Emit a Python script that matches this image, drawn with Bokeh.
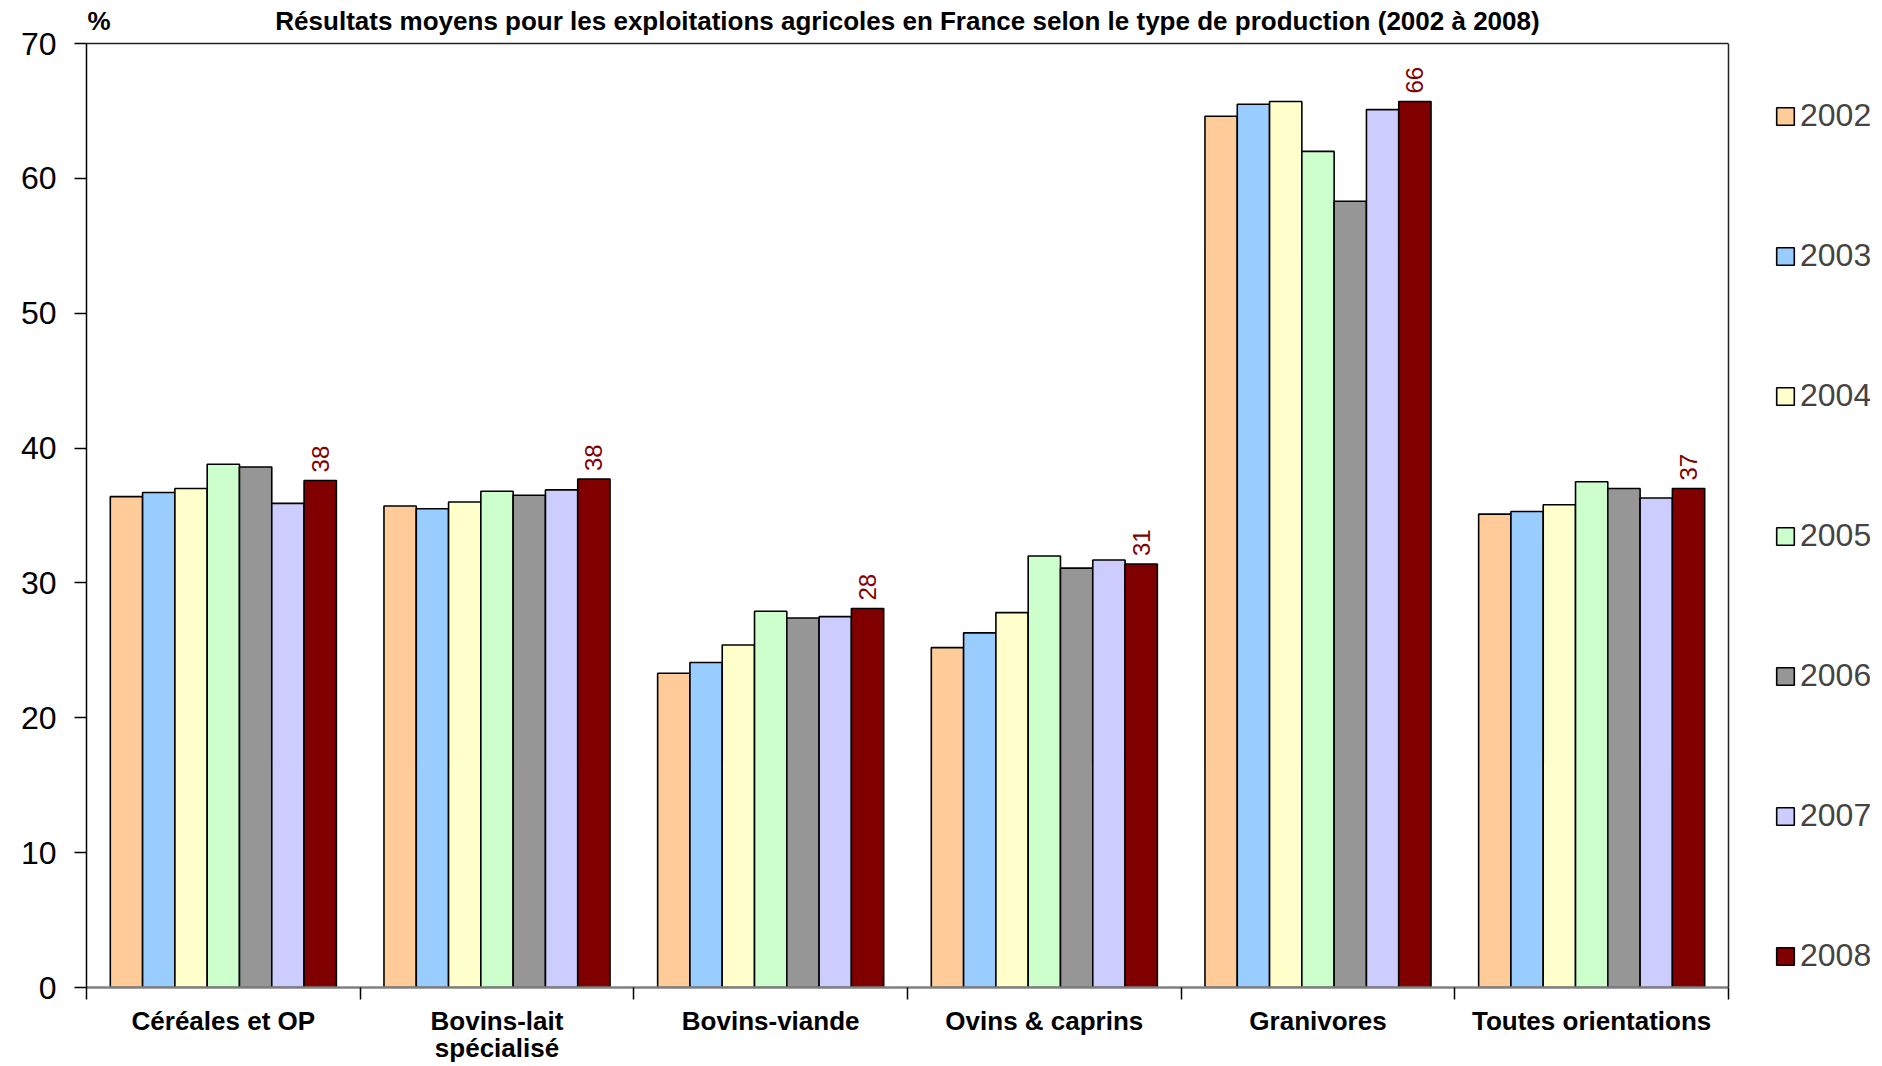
import math
from bokeh.plotting import figure
from bokeh.models import (ColumnDataSource, Range1d, FixedTicker, Legend, LegendItem, LinearAxis, Span)
from bokeh.core.properties import value
from bokeh.embed import file_html
from bokeh.resources import INLINE

title_text = "Résultats moyens pour les exploitations agricoles en France selon le type de production (2002 à 2008)"
unit_text = "%"
categories = ["Céréales et OP", "Bovins-lait\nspécialisé", "Bovins-viande",
              "Ovins & caprins", "Granivores", "Toutes orientations"]
years = ["2002", "2003", "2004", "2005", "2006", "2007", "2008"]
colors = ["#FFCC99", "#99CCFF", "#FFFFCC", "#CCFFCC", "#969696", "#CCCCFF", "#800000"]

v2002 = [36.4, 35.7, 23.3, 25.2, 64.6, 35.1]
v2003 = [36.7, 35.5, 24.1, 26.3, 65.5, 35.3]
v2004 = [37.0, 36.0, 25.4, 27.8, 65.7, 35.8]
v2005 = [38.8, 36.8, 27.9, 32.0, 62.0, 37.5]
v2006 = [38.6, 36.5, 27.4, 31.1, 58.3, 37.0]
v2007 = [35.9, 36.9, 27.5, 31.7, 65.1, 36.3]
v2008 = [37.6, 37.7, 28.1, 31.4, 65.7, 37.0]
labels_2008 = ["38", "38", "28", "31", "66", "37"]

series = [v2002, v2003, v2004, v2005, v2006, v2007, v2008]
y_ticks = [0, 10, 20, 30, 40, 50, 60, 70]

FONT = "Liberation Sans"
BAR_W = 0.118
N = len(categories)

# layout (pixels): plotted area spans 86..1728; the frame is extended to the right
# so the legend can sit inside it
FIG_W, FIG_H = 1874, 1066
BORDER_L, BORDER_R = 86, 4
PLOT_W = 1728 - 86
frame_w = FIG_W - BORDER_L - BORDER_R
x_end = N * frame_w / PLOT_W

p = figure(width=FIG_W, height=FIG_H, output_backend="svg", toolbar_location=None,
           x_range=Range1d(0, x_end), y_range=Range1d(0, 70),
           min_border_left=BORDER_L, min_border_right=BORDER_R,
           min_border_top=43, min_border_bottom=78)
p.xgrid.visible = False
p.ygrid.visible = False
p.outline_line_color = None
p.background_fill_color = "white"
p.border_fill_color = "white"

items = []
for j, (yr, vals, col) in enumerate(zip(years, series, colors)):
    xs = [i + 0.5 + (j - 3) * BAR_W for i in range(N)]
    src = ColumnDataSource(dict(x=xs, top=vals))
    r = p.vbar(x="x", top="top", bottom=0, width=BAR_W, source=src,
               fill_color=col, line_color="#000000", line_width=1.6)
    items.append(LegendItem(label=yr, renderers=[r]))

# data labels for 2008
xs8 = [i + 0.5 + 3 * BAR_W for i in range(N)]
lsrc = ColumnDataSource(dict(x=xs8, y=v2008, t=labels_2008))
p.text(x="x", y="y", text="t", source=lsrc, angle=math.pi / 2,
       text_align="left", text_baseline="middle", y_offset=-8,
       text_color="#800000", text_font=value(FONT), text_font_size="24px")

# right border of the plotted area
p.add_layout(Span(location=N, dimension="height", line_color="#222222", line_width=1.5))

# y axis
yax = p.yaxis[0]
yax.ticker = FixedTicker(ticks=y_ticks)
yax.major_tick_out = 12
yax.major_tick_in = 0
yax.minor_tick_out = 0
yax.minor_tick_in = 0
yax.axis_line_color = "#000000"
yax.axis_line_width = 1.5
yax.major_tick_line_color = "#000000"
yax.major_tick_line_width = 1.5
yax.major_label_text_font = FONT
yax.major_label_text_font_size = "32px"
yax.major_label_text_color = "#000000"
yax.major_label_standoff = 18

# x axis (category labels centred, separator ticks at the boundaries)
xax = p.xaxis[0]
xax.bounds = (0, N)
xax.ticker = FixedTicker(ticks=[i + 0.5 for i in range(N)],
                         minor_ticks=list(range(N + 1)))
xax.major_label_overrides = {i + 0.5: c for i, c in enumerate(categories)}
xax.major_tick_out = 0
xax.major_tick_in = 0
xax.minor_tick_out = 12
xax.minor_tick_in = 0
xax.minor_tick_line_color = "#000000"
xax.minor_tick_line_width = 1.5
xax.axis_line_color = "#808080"
xax.axis_line_width = 2.5
xax.major_label_text_font = FONT
xax.major_label_text_font_style = "bold"
xax.major_label_text_font_size = "26px"
xax.major_label_text_line_height = 0.92
xax.major_label_text_color = "#000000"
xax.major_label_standoff = 6

# top row: unit marker and title, as labels of an axis above the plot;
# its axis line is the top border of the plotted area
top_ax = LinearAxis(ticker=FixedTicker(ticks=[0.046, N / 2]),
                    major_label_overrides={0.046: unit_text, N / 2: title_text})
top_ax.bounds = (0, N)
top_ax.axis_line_color = "#222222"
top_ax.axis_line_width = 1.5
top_ax.major_tick_line_color = None
top_ax.minor_tick_line_color = None
top_ax.major_label_text_font = FONT
top_ax.major_label_text_font_style = "bold"
top_ax.major_label_text_font_size = "26px"
top_ax.major_label_text_color = "#000000"
top_ax.major_label_standoff = 2
p.add_layout(top_ax, "above")

legend = Legend(items=items, location=(1688, 13), orientation="vertical",
                spacing=103, padding=0, margin=0, glyph_width=22, glyph_height=22,
                label_standoff=4, label_text_font=FONT, label_text_font_size="32px",
                border_line_alpha=0, background_fill_alpha=0)
p.add_layout(legend)

open("out.html", "w").write(file_html(p, INLINE))
